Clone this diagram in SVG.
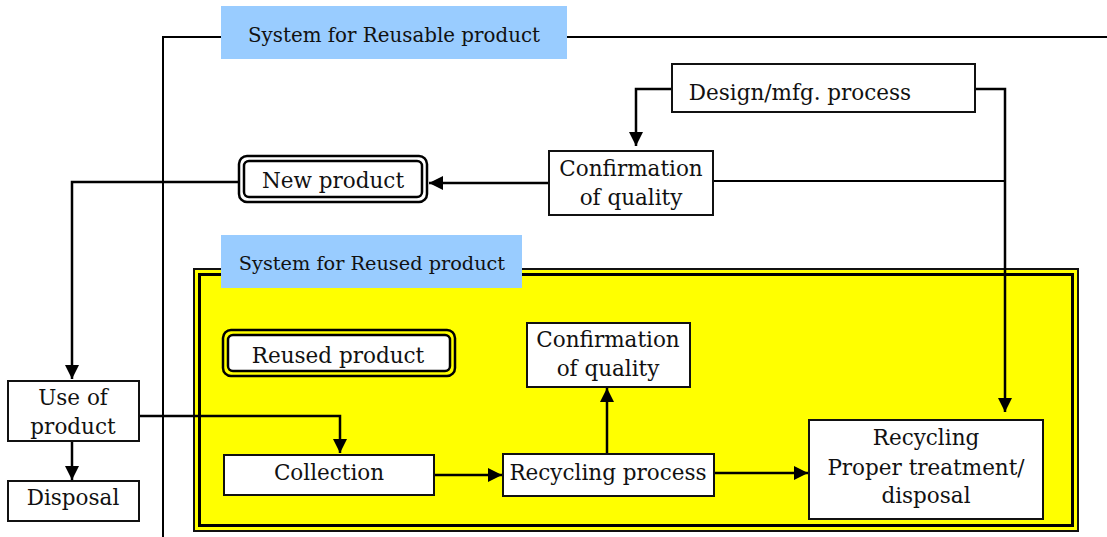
<svg xmlns="http://www.w3.org/2000/svg" width="1107" height="537" viewBox="0 0 1107 537">
<defs>
<marker id="ah" viewBox="0 0 14 14" refX="14" refY="7" markerWidth="14" markerHeight="14" markerUnits="userSpaceOnUse" orient="auto">
<path d="M0,0 L14,7 L0,14 Z" fill="#000"/>
</marker>
</defs>
<style>
text{font-family:"DejaVu Serif","Liberation Serif",serif;font-size:21.5px;fill:#111;text-anchor:middle}
text.t1{font-size:21px}
text.t2{font-size:19.3px}
.box{fill:#fff;stroke:#111;stroke-width:2}
.lbl{fill:#99ccff}
.ln{fill:none;stroke:#000;stroke-width:2}
.ar{fill:none;stroke:#000;stroke-width:2.5;marker-end:url(#ah)}
</style>
<rect width="1107" height="537" fill="#fff"/>
<g id="reused-system">
<rect x="194" y="269" width="884" height="262" fill="#ffff00" stroke="#111" stroke-width="2"/>
<rect x="199.5" y="274.5" width="873" height="251" fill="none" stroke="#000" stroke-width="3"/>
</g>
<g id="connectors">
<polyline class="ln" points="163,537 163,37 221,37"/>
<line class="ln" x1="567" y1="37" x2="1107" y2="37"/>
<polyline class="ar" points="672,89 636,89 636,146"/>
<polyline class="ar" points="975,89 1005,89 1005,412"/>
<line class="ln" x1="713" y1="181" x2="1005" y2="181"/>
<line class="ar" x1="549" y1="183" x2="429" y2="183"/>
<polyline class="ar" points="238,182 72,182 72,379"/>
<polyline class="ar" points="139,416 340,416 340,453"/>
<line class="ar" x1="72" y1="441" x2="72" y2="480"/>
<line class="ar" x1="434" y1="475" x2="502" y2="475"/>
<line class="ar" x1="607" y1="454" x2="607" y2="388"/>
<line class="ar" x1="714" y1="473" x2="808" y2="473"/>
</g>
<g id="reusable-label">
<rect class="lbl" x="221" y="6" width="346" height="53"/>
<text class="t1" x="394" y="42" textLength="292" lengthAdjust="spacingAndGlyphs">System for Reusable product</text>
</g>
<g id="design">
<rect class="box" x="672" y="64" width="303" height="48"/>
<text x="800" y="100">Design/mfg. process</text>
</g>
<g id="confirmation-top">
<rect class="box" x="549" y="151" width="164" height="64"/>
<text x="631" y="176">Confirmation</text>
<text x="631" y="205">of quality</text>
</g>
<g id="new-product">
<rect x="239" y="156" width="188" height="46" rx="8" fill="#fff" stroke="#000" stroke-width="2.5"/>
<rect x="244" y="161" width="178" height="36" rx="5" fill="#fff" stroke="#000" stroke-width="2.5"/>
<text x="333" y="188">New product</text>
</g>
<g id="reused-label">
<rect class="lbl" x="221" y="235" width="301" height="53"/>
<text class="t2" x="372" y="270">System for Reused product</text>
</g>
<g id="reused-product">
<rect x="223" y="330" width="232" height="46" rx="8" fill="#ffff00" stroke="#000" stroke-width="2.5"/>
<rect x="228" y="335" width="222" height="36" rx="5" fill="#fff" stroke="#000" stroke-width="2.5"/>
<text x="338" y="363">Reused product</text>
</g>
<g id="confirmation-inner">
<rect class="box" x="527" y="323" width="163" height="64"/>
<text x="608" y="347">Confirmation</text>
<text x="608" y="376">of quality</text>
</g>
<g id="use-of-product">
<rect class="box" x="8" y="381" width="131" height="60"/>
<text x="73" y="405">Use of</text>
<text x="73" y="434">product</text>
</g>
<g id="disposal">
<rect class="box" x="8" y="481" width="131" height="40"/>
<text x="73" y="505">Disposal</text>
</g>
<g id="collection">
<rect class="box" x="224" y="455" width="210" height="40"/>
<text x="329" y="480">Collection</text>
</g>
<g id="recycling-process">
<rect class="box" x="503" y="454" width="211" height="42"/>
<text x="608" y="480">Recycling process</text>
</g>
<g id="recycling">
<rect class="box" x="809" y="420" width="234" height="99"/>
<text x="926" y="445">Recycling</text>
<text x="926" y="475">Proper treatment/</text>
<text x="926" y="503">disposal</text>
</g>
</svg>
